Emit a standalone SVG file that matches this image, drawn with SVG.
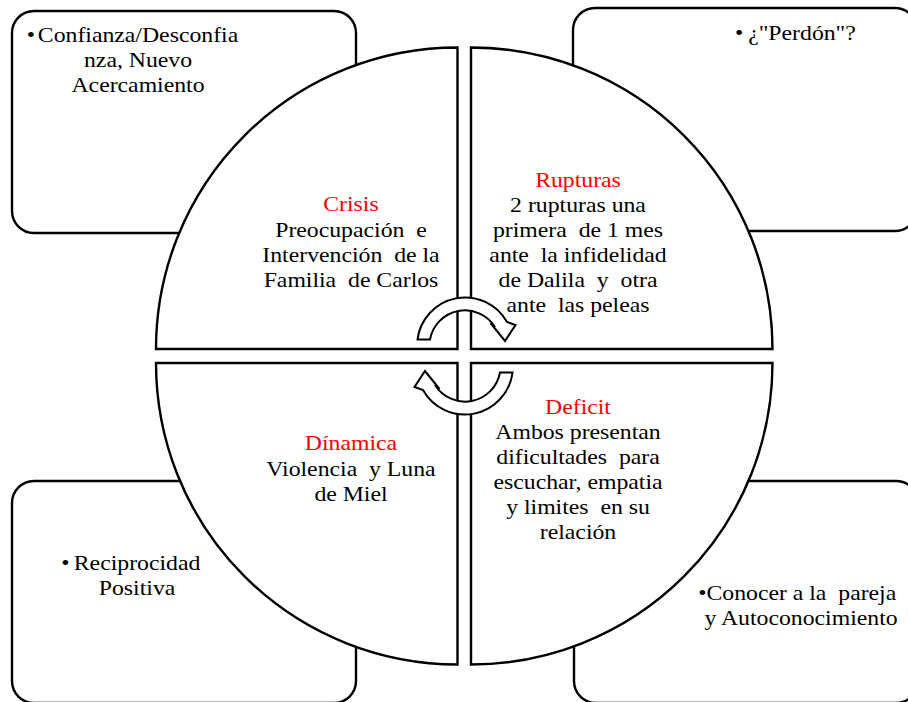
<svg xmlns="http://www.w3.org/2000/svg" width="908" height="702" viewBox="0 0 908 702">
<style>
.box{fill:#fff;stroke:#000;stroke-width:2.4}
.q{fill:#fff;stroke:#000;stroke-width:2.4}
.arr{fill:#fff;stroke:#000;stroke-width:2;stroke-linejoin:miter}
text{font-family:'Liberation Serif','Times New Roman','DejaVu Serif',serif;font-size:22px;fill:#000;white-space:pre}
.c{text-anchor:middle}
.red{fill:#ff0000}
</style>
<rect width="908" height="702" fill="#fff"/>
<g id="box-tl"><rect class="box" x="12" y="11" width="344" height="222" rx="22"/></g>
<g id="box-tr"><rect class="box" x="573" y="8" width="344" height="223" rx="22"/></g>
<g id="box-bl"><rect class="box" x="12" y="481" width="344" height="222" rx="22"/></g>
<g id="box-br"><rect class="box" x="574" y="481" width="344" height="222" rx="22"/></g>
<g id="q-tl"><path class="q" d="M457.5 349 L156 349 A301.5 301.5 0 0 1 457.5 47.5 Z"/></g>
<g id="q-tr"><path class="q" d="M471 349 L471 47.5 A301.5 301.5 0 0 1 772.5 349 Z"/></g>
<g id="q-bl"><path class="q" d="M457.5 363 L457.5 664.5 A301.5 301.5 0 0 1 156 363 Z"/></g>
<g id="q-br"><path class="q" d="M471 363 L772.5 363 A301.5 301.5 0 0 1 471 664.5 Z"/></g>
<g id="connectors">
<path class="arr" d="M417.5 339.5 A48 48 0 0 1 507 322 L515.5 325 L505 341 L490.5 323 L495 327 A35.5 35.5 0 0 0 430 339.5 Z"/>
<path class="arr" transform="rotate(180 465 356)" d="M417.5 339.5 A48 48 0 0 1 507 322 L515.5 325 L505 341 L490.5 323 L495 327 A35.5 35.5 0 0 0 430 339.5 Z"/>
</g>
<g id="labels" transform="scale(1.08 1)">
<g id="t-tl">
<text class="c" x="28.7" y="42.5">•</text>
<text class="c" x="127.8" y="42.5">Confianza/Desconfia</text>
<text class="c" x="127.8" y="67.5">nza, Nuevo</text>
<text class="c" x="127.8" y="92.5">Acercamiento</text>
</g>
<g id="t-tr">
<text class="c" x="684.3" y="40.5">•</text>
<text class="c" x="742.6" y="40.5">¿"Perdón"?</text>
</g>
<g id="t-crisis">
<text class="c red" x="325" y="211.5">Crisis</text>
<text class="c" x="325" y="237">Preocupación  e</text>
<text class="c" x="325" y="262">Intervención  de la</text>
<text class="c" x="325" y="287">Familia  de Carlos</text>
</g>
<g id="t-rupturas">
<text class="c red" x="535.2" y="187">Rupturas</text>
<text class="c" x="535.2" y="212">2 rupturas una</text>
<text class="c" x="535.2" y="237">primera  de 1 mes</text>
<text class="c" x="535.2" y="262">ante  la infidelidad</text>
<text class="c" x="535.2" y="287">de Dalila  y  otra</text>
<text class="c" x="535.2" y="312">ante  las peleas</text>
</g>
<g id="t-dinamica">
<text class="c red" x="325" y="450.5">Dínamica</text>
<text class="c" x="325" y="476.5">Violencia  y Luna</text>
<text class="c" x="325" y="501.5">de Miel</text>
</g>
<g id="t-deficit">
<text class="c red" x="535.2" y="414.5">Deficit</text>
<text class="c" x="535.2" y="439.5">Ambos presentan</text>
<text class="c" x="535.2" y="464.5">dificultades  para</text>
<text class="c" x="535.2" y="489.5">escuchar, empatia</text>
<text class="c" x="535.2" y="514.5">y limites  en su</text>
<text class="c" x="535.2" y="539.5">relación</text>
</g>
<g id="t-bl">
<text class="c" x="60.5" y="570.5">•</text>
<text class="c" x="126.9" y="570.5">Reciprocidad</text>
<text class="c" x="126.9" y="595.5">Positiva</text>
</g>
<g id="t-br">
<text class="c" x="650.5" y="600.5">•</text>
<text class="c" x="742" y="600.5">Conocer a la  pareja</text>
<text class="c" x="741.7" y="625.5">y Autoconocimiento</text>
</g>
</g>
</svg>
